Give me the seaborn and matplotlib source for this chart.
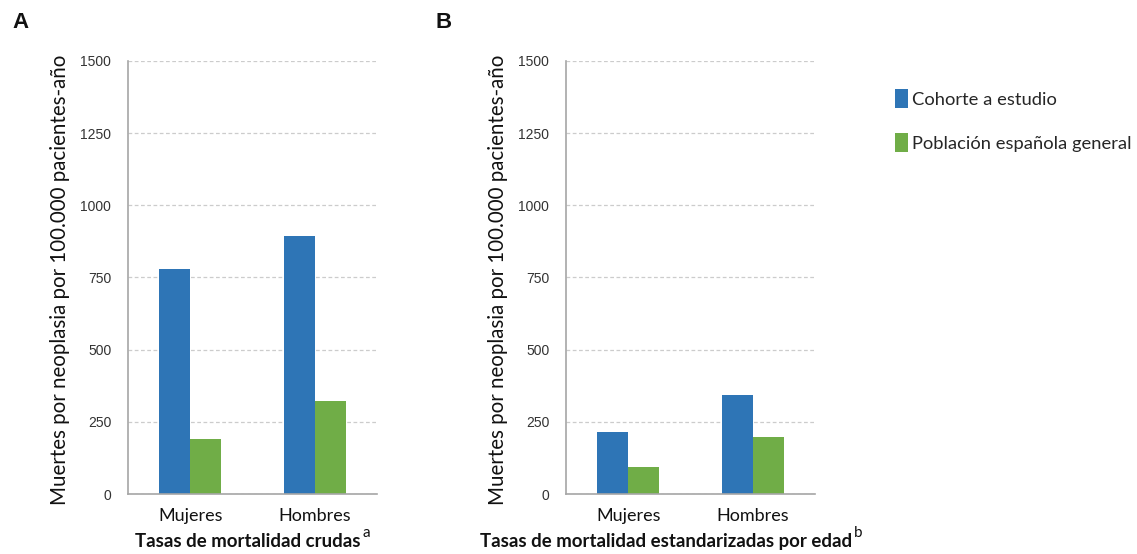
import matplotlib
matplotlib.use("Agg")
import matplotlib.pyplot as plt
import seaborn as sns
import pandas as pd
from matplotlib.patches import Patch

# Data
sexos = ["Mujeres", "Hombres"]
grupos = ["Cohorte a estudio", "Población española general"]
crudas_cohorte = [780, 895]
crudas_poblacion = [190, 322]
estand_cohorte = [215, 343]
estand_poblacion = [93, 198]
yticks = [0, 250, 500, 750, 1000, 1250, 1500]

colores = ["#2E75B6", "#70AD47"]

def tabla(cohorte, poblacion):
    filas = []
    for s, c, p in zip(sexos, cohorte, poblacion):
        filas.append({"sexo": s, "grupo": grupos[0], "tasa": c})
        filas.append({"sexo": s, "grupo": grupos[1], "tasa": p})
    return pd.DataFrame(filas)

sns.set_theme(style="white")
plt.rcParams["font.family"] = ["Lato", "DejaVu Sans"]

fig = plt.figure(figsize=(11.37, 5.54), dpi=100)
ax_a = fig.add_axes([0.1126, 0.1083, 0.219, 0.7816])
ax_b = fig.add_axes([0.4978, 0.1083, 0.219, 0.7816])

paneles = [
    (ax_a, tabla(crudas_cohorte, crudas_poblacion), "Tasas de mortalidad crudas", "a", "A", 0.011, 0.480),
    (ax_b, tabla(estand_cohorte, estand_poblacion), "Tasas de mortalidad estandarizadas por edad", "b", "B", 0.383, 0.400),
]

for ax, df, xlabel, sup, letra, lx, xl_x in paneles:
    sns.barplot(data=df, x="sexo", y="tasa", hue="grupo", order=sexos,
                hue_order=grupos, palette=colores, width=0.5, saturation=1,
                ax=ax, legend=False, linewidth=0)
    ax.set_ylim(0, 1500)
    ax.set_xlim(-0.5, 1.5)
    ax.set_yticks(yticks)
    ax.set_yticklabels([str(v) for v in yticks], family="Liberation Sans",
                       fontsize=10, color="#333333")
    ax.tick_params(axis="y", length=0, pad=12)
    ax.tick_params(axis="x", length=0, labelsize=13, pad=10, colors="#111111")
    ax.set_axisbelow(True)
    ax.yaxis.grid(True, linestyle=(0, (3, 2)), color="#cccccc", linewidth=0.9)
    ax.xaxis.grid(False)
    for s in ["top", "right"]:
        ax.spines[s].set_visible(False)
    for s in ["left", "bottom"]:
        ax.spines[s].set_color("#a6a6a6")
        ax.spines[s].set_linewidth(1.2)
    ax.set_ylabel("Muertes por neoplasia por 100.000 pacientes-año",
                  fontsize=14.8, color="#111111")
    ax.yaxis.set_label_coords(-0.232, 0.494)
    ax.set_xlabel(xlabel, fontsize=13.4, fontweight="bold", color="#111111")
    ax.xaxis.set_label_coords(xl_x, -0.090)
    ax.annotate(sup, xy=(1, 1), xycoords=ax.xaxis.label, xytext=(1.5, -5),
                textcoords="offset points", fontsize=11, color="#111111",
                ha="left", va="bottom")
    fig.text(lx, 0.949, letra, fontsize=16, fontweight="bold",
             family="Liberation Sans", color="#111111", va="baseline")

handles = [Patch(facecolor=c, edgecolor="none") for c in colores]
fig.legend(handles, grupos, loc="upper left", bbox_to_anchor=(0.773, 0.869),
           frameon=False, fontsize=13.2, handlelength=0.7, handleheight=1.2,
           handletextpad=0.2, labelspacing=1.38)

fig.savefig("out.png", dpi=100)
